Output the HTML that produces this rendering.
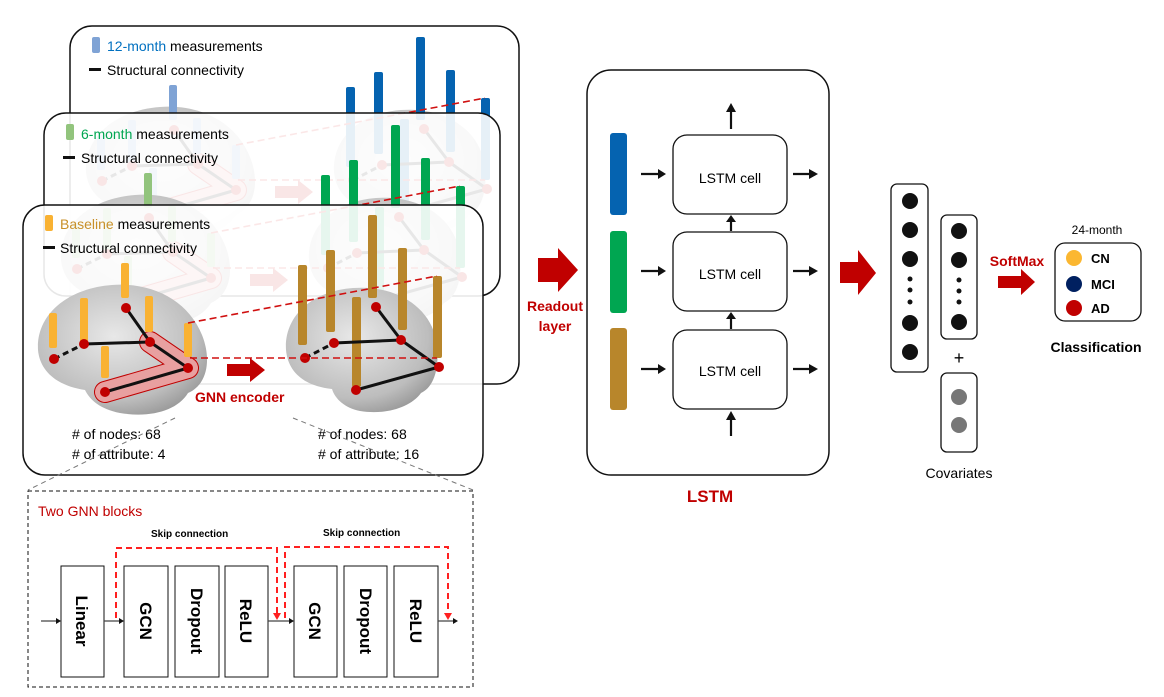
<!DOCTYPE html>
<html><head><meta charset="utf-8"><style>
html,body{margin:0;padding:0;background:#fff;}
svg{display:block;font-family:"Liberation Sans",sans-serif;}
.bl{fill:var(--l);} .br{fill:var(--r);}
</style></head><body>
<svg width="1164" height="697" viewBox="0 0 1164 697" xmlns="http://www.w3.org/2000/svg">
<defs>
<radialGradient id="bg" cx="0.45" cy="0.4" r="0.7"><stop offset="0" stop-color="#e8e8e8"/><stop offset="0.7" stop-color="#bdbdbd"/><stop offset="1" stop-color="#8e8e8e"/></radialGradient>
<g id="content">
 <path d="M38,350 C36,313 70,288 112,285 C152,282 188,300 202,335 C212,360 207,385 188,393 C177,411 150,418 120,413 C100,409 90,400 85,390 C58,386 40,372 38,350 Z" fill="url(#bg)"/>
 <path d="M286,350 C284,316 312,291 353,288 C393,285 426,304 435,335 C441,362 436,386 421,393 C410,408 385,415 360,411 C345,408 335,399 332,389 C304,386 288,372 286,350 Z" fill="url(#bg)"/>
 <polyline points="150,342 188,368 105,392" fill="none" stroke="#c00000" stroke-width="22" stroke-linejoin="round" stroke-linecap="round"/>
 <polyline points="150,342 188,368 105,392" fill="none" stroke="#e8a0a0" stroke-width="20" stroke-linejoin="round" stroke-linecap="round"/>
 <rect class="bl" x="49" y="313" width="8" height="35" rx="2"/>
 <rect class="bl" x="80" y="298" width="8" height="45" rx="2"/>
 <rect class="bl" x="121" y="263" width="8" height="35" rx="2"/>
 <rect class="bl" x="145" y="296" width="8" height="36" rx="2"/>
 <rect class="bl" x="101" y="346" width="8" height="32" rx="2"/>
 <rect class="bl" x="184" y="323" width="8" height="34" rx="2"/>
 <rect class="br" x="298" y="265" width="9" height="80" rx="2"/>
 <rect class="br" x="326" y="250" width="9" height="82" rx="2"/>
 <rect class="br" x="368" y="215" width="9" height="83" rx="2"/>
 <rect class="br" x="398" y="248" width="9" height="82" rx="2"/>
 <rect class="br" x="352" y="297" width="9" height="90" rx="2"/>
 <rect class="br" x="433" y="276" width="9" height="82" rx="2"/>
 <g stroke="#111" stroke-width="3">
  <line x1="54" y1="359" x2="84" y2="344" stroke-dasharray="6 4"/><line x1="84" y1="344" x2="150" y2="342"/>
  <line x1="126" y1="308" x2="150" y2="342"/><line x1="150" y1="342" x2="188" y2="368"/><line x1="105" y1="392" x2="188" y2="368"/>
  <line x1="305" y1="358" x2="334" y2="343" stroke-dasharray="6 4"/><line x1="334" y1="343" x2="401" y2="340"/>
  <line x1="376" y1="307" x2="401" y2="340"/><line x1="401" y1="340" x2="439" y2="367"/><line x1="356" y1="390" x2="439" y2="367"/>
 </g>
 <g fill="#c00000">
  <circle cx="54" cy="359" r="5"/><circle cx="84" cy="344" r="5"/><circle cx="126" cy="308" r="5"/><circle cx="150" cy="342" r="5"/><circle cx="105" cy="392" r="5"/><circle cx="188" cy="368" r="5"/>
  <circle cx="305" cy="358" r="5"/><circle cx="334" cy="343" r="5"/><circle cx="376" cy="307" r="5"/><circle cx="401" cy="340" r="5"/><circle cx="356" cy="390" r="5"/><circle cx="439" cy="367" r="5"/>
 </g>
 <g stroke="#d01010" stroke-width="1.6" stroke-dasharray="7 4" fill="none">
  <line x1="188" y1="323" x2="437" y2="276"/><line x1="190" y1="358" x2="437" y2="358"/>
 </g>
 <path d="M227,364 L250,364 L250,358 L265,370 L250,382 L250,376 L227,376 Z" fill="#c00000"/>
</g>
</defs>

<rect x="70" y="26" width="449" height="358" rx="22" fill="#fff" stroke="#111" stroke-width="1.5"/>
<use href="#content" transform="translate(48,-178)" style="--l:#7fa3d5;--r:#0563b0"/>
<rect x="92" y="37" width="8" height="16" rx="2" fill="#7fa3d5"/>
<text x="107" y="51" font-size="14"><tspan fill="#0070c0">12-month</tspan> measurements</text>
<rect x="89" y="68" width="12" height="3" fill="#111"/>
<text x="107" y="75" font-size="14">Structural connectivity</text>

<rect x="44" y="113" width="456" height="183" rx="22" fill="#fff" fill-opacity="0.9" stroke="#111" stroke-width="1.5"/>
<use href="#content" transform="translate(23,-90)" style="--l:#92c47d;--r:#00a651"/>
<rect x="66" y="124" width="8" height="16" rx="2" fill="#92c47d"/>
<text x="81" y="139" font-size="14"><tspan fill="#00a651">6-month</tspan> measurements</text>
<rect x="63" y="156" width="12" height="3" fill="#111"/>
<text x="81" y="163" font-size="14">Structural connectivity</text>

<rect x="23" y="205" width="460" height="270" rx="22" fill="#fff" fill-opacity="0.9" stroke="#111" stroke-width="1.5"/>
<use href="#content" style="--l:#f9b233;--r:#b8862b"/>
<text x="195" y="402" font-size="14" font-weight="bold" fill="#c00000">GNN encoder</text>
<rect x="45" y="215" width="8" height="16" rx="2" fill="#f9b233"/>
<text x="60" y="229" font-size="14"><tspan fill="#c8902a">Baseline</tspan> measurements</text>
<rect x="43" y="246" width="12" height="3" fill="#111"/>
<text x="60" y="253" font-size="14">Structural connectivity</text>
<text x="72" y="439" font-size="14">#&#160;of nodes: 68</text>
<text x="72" y="459" font-size="14">#&#160;of attribute: 4</text>
<text x="318" y="439" font-size="14">#&#160;of nodes: 68</text>
<text x="318" y="459" font-size="14">#&#160;of attribute: 16</text>
<g stroke="#777" stroke-width="1" stroke-dasharray="5 4">
 <line x1="175" y1="418" x2="28" y2="490"/><line x1="293" y1="418" x2="473" y2="490"/>
</g>

<rect x="28" y="491" width="445" height="196" fill="none" stroke="#111" stroke-dasharray="4 3"/>
<text x="38" y="516" font-size="14" fill="#c00000">Two GNN blocks</text>
<text x="151" y="537" font-size="10" font-weight="bold">Skip connection</text>
<text x="323" y="536" font-size="10" font-weight="bold">Skip connection</text>
<g fill="#fff" stroke="#111" stroke-width="1">
 <rect x="61" y="566" width="43" height="111"/><rect x="124" y="566" width="44" height="111"/><rect x="175" y="566" width="44" height="111"/><rect x="225" y="566" width="43" height="111"/>
 <rect x="294" y="566" width="43" height="111"/><rect x="344" y="566" width="43" height="111"/><rect x="394" y="566" width="44" height="111"/>
</g>
<g font-size="17" font-weight="bold" text-anchor="middle">
 <text transform="translate(76,621) rotate(90)">Linear</text>
 <text transform="translate(140,621) rotate(90)">GCN</text>
 <text transform="translate(191,621) rotate(90)">Dropout</text>
 <text transform="translate(240,621) rotate(90)">ReLU</text>
 <text transform="translate(309,621) rotate(90)">GCN</text>
 <text transform="translate(360,621) rotate(90)">Dropout</text>
 <text transform="translate(410,621) rotate(90)">ReLU</text>
</g>
<g stroke="#444" stroke-width="1.2">
 <line x1="41" y1="621" x2="58" y2="621"/><line x1="104" y1="621" x2="121" y2="621"/><line x1="268" y1="621" x2="291" y2="621"/><line x1="438" y1="621" x2="455" y2="621"/>
</g>
<g fill="#111"><path d="M61,621 l-5,-3 v6z"/><path d="M124,621 l-5,-3 v6z"/><path d="M294,621 l-5,-3 v6z"/><path d="M458,621 l-5,-3 v6z"/></g>
<g stroke="#ff2020" stroke-width="2" stroke-dasharray="6 4" fill="none">
 <path d="M116,618 V548 H277 V614"/><path d="M285,618 V547 H448 V614"/>
</g>
<g fill="#ff2020"><path d="M273,613 h8 l-4,7z"/><path d="M444,613 h8 l-4,7z"/></g>

<path d="M538,258 L558,258 L558,248 L578,270 L558,292 L558,282 L538,282 Z" fill="#c00000"/>
<text x="555" y="311" font-size="14" font-weight="bold" fill="#c00000" text-anchor="middle">Readout</text>
<text x="555" y="331" font-size="14" font-weight="bold" fill="#c00000" text-anchor="middle">layer</text>

<rect x="587" y="70" width="242" height="405" rx="24" fill="#fff" stroke="#111" stroke-width="1.5"/>
<rect x="610" y="133" width="17" height="82" rx="3" fill="#0563b0"/>
<rect x="610" y="231" width="17" height="82" rx="3" fill="#00a651"/>
<rect x="610" y="328" width="17" height="82" rx="3" fill="#b8862b"/>
<g fill="#fff" stroke="#111" stroke-width="1.3">
 <rect x="673" y="135" width="114" height="79" rx="14"/><rect x="673" y="232" width="114" height="79" rx="14"/><rect x="673" y="330" width="114" height="79" rx="14"/>
</g>
<g font-size="14" text-anchor="middle"><text x="730" y="183">LSTM cell</text><text x="730" y="279">LSTM cell</text><text x="730" y="376">LSTM cell</text></g>
<g stroke="#111" stroke-width="2.2">
 <line x1="641" y1="174" x2="660" y2="174"/><line x1="641" y1="271" x2="660" y2="271"/><line x1="641" y1="369" x2="660" y2="369"/>
 <line x1="793" y1="174" x2="810" y2="174"/><line x1="793" y1="271" x2="810" y2="271"/><line x1="793" y1="369" x2="810" y2="369"/>
 <line x1="731" y1="129" x2="731" y2="112"/><line x1="731" y1="231" x2="731" y2="220"/><line x1="731" y1="329" x2="731" y2="318"/><line x1="731" y1="436" x2="731" y2="420"/>
</g>
<g fill="#111">
 <path d="M666,174 l-8,-5 v10z"/><path d="M666,271 l-8,-5 v10z"/><path d="M666,369 l-8,-5 v10z"/>
 <path d="M818,174 l-9,-5 v10z"/><path d="M818,271 l-9,-5 v10z"/><path d="M818,369 l-9,-5 v10z"/>
 <path d="M731,103 l-5,9 h10z"/><path d="M731,215 l-5,7 h10z"/><path d="M731,312 l-5,7 h10z"/><path d="M731,411 l-5,9 h10z"/>
</g>
<text x="710" y="502" font-size="17" font-weight="bold" fill="#c00000" text-anchor="middle">LSTM</text>

<path d="M840,262 L858,262 L858,250 L876,273 L858,295 L858,283 L840,283 Z" fill="#c00000"/>
<rect x="891" y="184" width="37" height="188" rx="6" fill="#fff" stroke="#111" stroke-width="1.3"/>
<rect x="941" y="215" width="36" height="124" rx="6" fill="#fff" stroke="#111" stroke-width="1.3"/>
<rect x="941" y="373" width="36" height="79" rx="6" fill="#fff" stroke="#111" stroke-width="1.3"/>
<g fill="#111">
 <circle cx="910" cy="201" r="8"/><circle cx="910" cy="230" r="8"/><circle cx="910" cy="259" r="8"/>
 <circle cx="910" cy="279" r="2.5"/><circle cx="910" cy="290" r="2.5"/><circle cx="910" cy="302" r="2.5"/>
 <circle cx="910" cy="323" r="8"/><circle cx="910" cy="352" r="8"/>
 <circle cx="959" cy="231" r="8"/><circle cx="959" cy="260" r="8"/>
 <circle cx="959" cy="280" r="2.5"/><circle cx="959" cy="291" r="2.5"/><circle cx="959" cy="302" r="2.5"/>
 <circle cx="959" cy="322" r="8"/>
</g>
<g fill="#777"><circle cx="959" cy="397" r="8"/><circle cx="959" cy="425" r="8"/></g>
<text x="959" y="364" font-size="18" text-anchor="middle">+</text>
<text x="959" y="478" font-size="14" text-anchor="middle">Covariates</text>
<text x="1017" y="266" font-size="14" font-weight="bold" fill="#c00000" text-anchor="middle">SoftMax</text>
<path d="M998,276 L1021,276 L1021,269 L1035,282 L1021,295 L1021,288 L998,288 Z" fill="#c00000"/>
<text x="1097" y="234" font-size="12" text-anchor="middle">24-month</text>
<rect x="1055" y="243" width="86" height="78" rx="10" fill="#fff" stroke="#111" stroke-width="1.3"/>
<circle cx="1074" cy="258" r="8" fill="#fbb731"/><circle cx="1074" cy="284" r="8" fill="#002060"/><circle cx="1074" cy="308" r="8" fill="#c00000"/>
<g font-size="13" font-weight="bold"><text x="1091" y="263">CN</text><text x="1091" y="289">MCI</text><text x="1091" y="313">AD</text></g>
<text x="1096" y="352" font-size="14" font-weight="bold" text-anchor="middle">Classification</text>
</svg>
</body></html>
